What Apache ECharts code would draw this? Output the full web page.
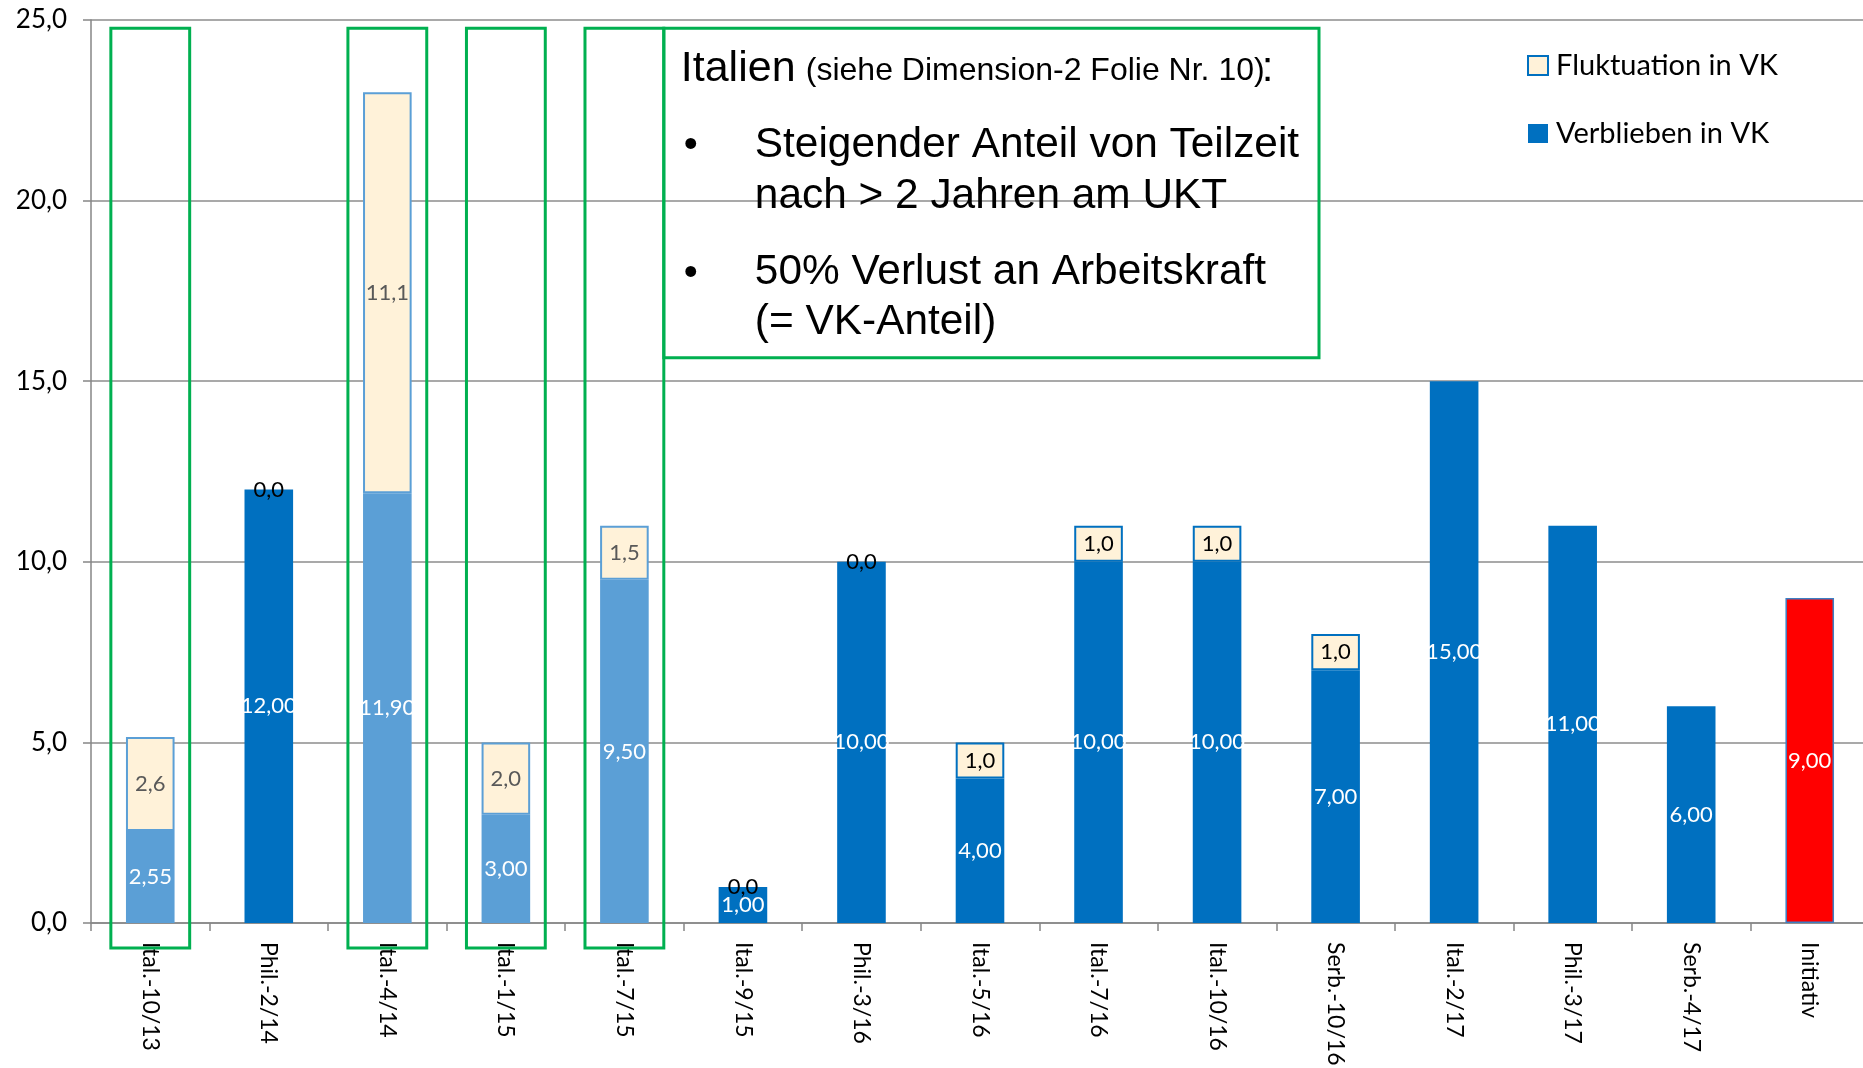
<!DOCTYPE html>
<html>
<head>
<meta charset="utf-8">
<script src="https://cdn.jsdelivr.net/npm/echarts@6/dist/echarts.min.js"></script>
<style>
  html, body { margin: 0; padding: 0; background: #fff; }
  #chart { width: 1863px; height: 1068px; }
</style>
</head>
<body>
<div id="chart"></div>
<script>
const kategorien = ['Ital.-10/13', 'Phil.-2/14', 'Ital.-4/14', 'Ital.-1/15', 'Ital.-7/15', 'Ital.-9/15', 'Phil.-3/16', 'Ital.-5/16', 'Ital.-7/16', 'Ital.-10/16', 'Serb.-10/16', 'Ital.-2/17', 'Phil.-3/17', 'Serb.-4/17', 'Initiativ'];
const verblieben = [2.55, 12, 11.9, 3, 9.5, 1, 10, 4, 10, 10, 7, 15, 11, 6, 9];
const fluktuation = [2.6, 0, 11.1, 2, 1.5, 0, 0, 1, 1, 1, 1, null, null, null, null];
const italienGruppe = ['Ital.-10/13', 'Ital.-4/14', 'Ital.-1/15', 'Ital.-7/15'];
const yTicks = [0, 5, 10, 15, 20, 25];

const dunkelblau = '#0070c0';
const hellblau = '#5b9fd6';
const creme = '#fff2d9';
const gruen = '#00b050';

const komma = (v, d) => v.toFixed(d).replace('.', ',');

const chart = echarts.init(document.getElementById('chart'));

const verbliebenDaten = verblieben.map((v, i) => {
  const name = kategorien[i];
  let color = dunkelblau;
  if (italienGruppe.includes(name)) color = hellblau;
  if (name === 'Initiativ') color = '#ff0000';
  return {
    value: v,
    itemStyle: {
      color,
      borderColor: name === 'Initiativ' ? '#3c7fc4' : color,
      borderWidth: name === 'Initiativ' ? 1.5 : 0
    }
  };
});

const fluktuationDaten = fluktuation.map((v, i) => {
  if (v === null) return { value: null };
  const hell = italienGruppe.includes(kategorien[i]);
  return {
    value: v,
    itemStyle: {
      color: creme,
      borderColor: hell ? hellblau : dunkelblau,
      borderWidth: v === 0 ? 0 : 2
    },
    label: { color: hell ? '#595959' : '#000' }
  };
});

// grüne Rahmen um die Italien-Gruppe (x = Kategorie-Index)
const rahmenDaten = italienGruppe.map((n) => [kategorien.indexOf(n)]);

const option = {
  backgroundColor: '#fff',
  animation: false,
  textStyle: { fontFamily: 'Lato' },
  grid: { left: 91, width: 1778, top: 20, bottom: 145, outerBoundsMode: 'none' },
  legend: {
    orient: 'vertical',
    left: 1522,
    top: 46,
    itemWidth: 20,
    itemHeight: 19,
    itemGap: 39,
    icon: 'rect',
    data: ['Fluktuation in VK', 'Verblieben in VK'],
    textStyle: { fontFamily: 'Lato', fontSize: 29, color: '#000', padding: [0, 0, 0, 3] }
  },
  xAxis: {
    type: 'category',
    data: kategorien,
    axisLine: { lineStyle: { color: '#868686', width: 1.5 } },
    axisTick: { show: true, length: 8, lineStyle: { color: '#868686', width: 1.5 } },
    axisLabel: {
      rotate: -90,
      margin: 19,
      interval: 0,
      fontFamily: 'Lato',
      fontSize: 23,
      color: '#000'
    }
  },
  yAxis: {
    type: 'value',
    min: yTicks[0],
    max: yTicks[yTicks.length - 1],
    interval: 5,
    axisLine: { show: true, lineStyle: { color: '#868686', width: 1.5 } },
    axisTick: { show: true, length: 8, lineStyle: { color: '#868686', width: 1.5 } },
    axisLabel: {
      margin: 24,
      fontFamily: 'Lato',
      fontSize: 26,
      color: '#000',
      formatter: (v) => komma(v, 1)
    },
    splitLine: { lineStyle: { color: '#8c8c8c', width: 1.5 } }
  },
  series: [
    {
      name: 'Verblieben in VK',
      type: 'bar',
      stack: 'vk',
      barWidth: '41%',
      itemStyle: { color: dunkelblau },
      label: {
        show: true,
        position: 'inside',
        color: '#fff',
        fontFamily: 'Lato',
        fontSize: 22,
        formatter: (p) => komma(p.value, 2)
      },
      data: verbliebenDaten
    },
    {
      name: 'Fluktuation in VK',
      type: 'bar',
      stack: 'vk',
      barWidth: '41%',
      itemStyle: { color: creme, borderColor: dunkelblau, borderWidth: 2 },
      label: {
        show: true,
        position: 'inside',
        fontFamily: 'Lato',
        fontSize: 22,
        formatter: (p) => (p.value === null || p.value === undefined ? '' : komma(p.value, 1))
      },
      data: fluktuationDaten
    },
    {
      name: 'Rahmen',
      type: 'custom',
      silent: true,
      clip: false,
      z: 5,
      renderItem: (params, api) => {
        const idx = api.value(0);
        const x = api.coord([idx, 0])[0];
        const yOben = api.coord([idx, 24.77])[1];
        const yUnten = api.coord([idx, -0.69])[1];
        const w = api.size([1, 0])[0] * 0.665;
        return {
          type: 'rect',
          shape: { x: x - w / 2, y: yOben, width: w, height: yUnten - yOben },
          style: { fill: 'none', stroke: gruen, lineWidth: 3 }
        };
      },
      data: rahmenDaten
    }
  ]
};

chart.setOption(option);

// Textkasten rechts an den letzten grünen Rahmen anschließen
const [cx] = chart.convertToPixel({ seriesIndex: 0 }, [4, 0]);
const band = chart.convertToPixel({ seriesIndex: 0 }, [5, 0])[0] - cx;
const kastenLinks = cx + band * 0.3325;
const kastenOben = chart.convertToPixel({ seriesIndex: 0 }, [4, 24.77])[1];
const kastenUnten = chart.convertToPixel({ seriesIndex: 0 }, [4, 15.65])[1];
const arial = '"Liberation Sans", Arial, sans-serif';

const textZeile = (text, x, y, size) => ({
  type: 'text',
  x,
  y,
  z: 10,
  style: { text, font: `${size}px ${arial}`, fill: '#000', textAlign: 'left', textVerticalAlign: 'middle' }
});

chart.setOption({
  graphic: [
    {
      type: 'rect',
      z: 10,
      shape: { x: kastenLinks, y: kastenOben, width: 1319 - kastenLinks, height: kastenUnten - kastenOben },
      style: { fill: 'none', stroke: gruen, lineWidth: 3 }
    },
    textZeile('Italien', kastenLinks + 17, 69, 43),
    textZeile('(siehe Dimension-2 Folie Nr. 10)', kastenLinks + 142, 71, 32),
    textZeile(':', kastenLinks + 598, 69, 42),
    textZeile('•', kastenLinks + 20, 146, 40),
    textZeile('Steigender Anteil von Teilzeit', kastenLinks + 91, 145.5, 42.4),
    textZeile('nach > 2 Jahren am UKT', kastenLinks + 91, 196.5, 42.4),
    textZeile('•', kastenLinks + 20, 274, 40),
    textZeile('50% Verlust an Arbeitskraft', kastenLinks + 91, 272.5, 42.4),
    textZeile('(= VK-Anteil)', kastenLinks + 91, 322.5, 42.4)
  ]
});
</script>
</body>
</html>
